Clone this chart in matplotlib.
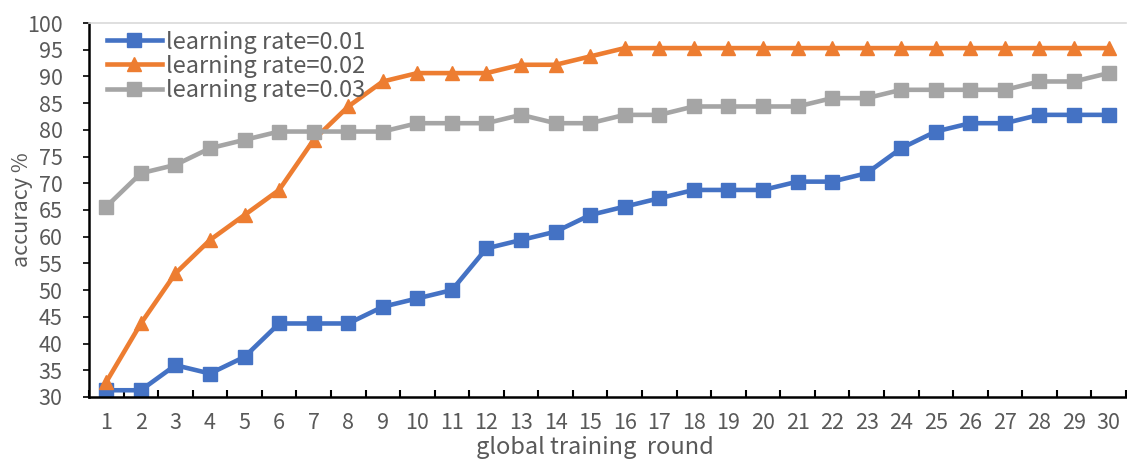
import numpy as np
import matplotlib.pyplot as plt
from matplotlib.ticker import FixedLocator

plt.rcParams['font.family'] = ['Noto Sans CJK SC', 'DejaVu Sans']

# accuracy (%) per global training round
rounds = list(range(1, 31))
acc_lr001 = [31.25, 31.25, 35.94, 34.38, 37.5, 43.75, 43.75, 43.75, 46.88, 48.44,
             50.0, 57.81, 59.38, 60.94, 64.06, 65.63, 67.19, 68.75, 68.75, 68.75,
             70.31, 70.31, 71.88, 76.56, 79.69, 81.25, 81.25, 82.81, 82.81, 82.81]
acc_lr002 = [32.81, 43.75, 53.13, 59.38, 64.06, 68.75, 78.13, 84.38, 89.06, 90.63,
             90.63, 90.63, 92.19, 92.19, 93.75, 95.31, 95.31, 95.31, 95.31, 95.31,
             95.31, 95.31, 95.31, 95.31, 95.31, 95.31, 95.31, 95.31, 95.31, 95.31]
acc_lr003 = [65.63, 71.88, 73.44, 76.56, 78.13, 79.69, 79.69, 79.69, 79.69, 81.25,
             81.25, 81.25, 82.81, 81.25, 81.25, 82.81, 82.81, 84.38, 84.38, 84.38,
             84.38, 85.94, 85.94, 87.5, 87.5, 87.5, 87.5, 89.06, 89.06, 90.63]
labels = ['learning rate=0.01', 'learning rate=0.02', 'learning rate=0.03']

txt = '#595959'

fig = plt.figure(figsize=(11.27, 4.61), dpi=100)
ax = fig.add_axes([0.079, 0.139, 0.92, 0.811])

ax.plot(rounds, acc_lr001, color='#4472C4', lw=3.3, marker='s', ms=10, label=labels[0])
ax.plot(rounds, acc_lr002, color='#ED7D31', lw=3.3, marker='^', ms=10, label=labels[1])
ax.plot(rounds, acc_lr003, color='#A5A5A5', lw=3.3, marker='s', ms=10, label=labels[2])

ax.set_xlim(0.5, 30.5)
ax.set_ylim(30, 100)
ax.set_yticks(np.arange(30, 101, 5))
ax.set_xticks(rounds)
ax.xaxis.set_minor_locator(FixedLocator(np.arange(0.5, 31, 1)))
ax.tick_params(axis='x', which='major', length=0, pad=11, labelsize=15.5, labelcolor=txt)
ax.tick_params(axis='x', which='minor', direction='in', length=5, width=1.5, color='black')
ax.tick_params(axis='y', length=4, width=1.2, pad=15, labelsize=15.5, labelcolor=txt)

ax.spines['right'].set_visible(False)
ax.spines['top'].set_color('#D9D9D9')
ax.spines['top'].set_linewidth(1.2)
ax.spines['left'].set_linewidth(1.8)
ax.spines['bottom'].set_linewidth(1.8)

ax.set_xlabel('global training  round', fontsize=17, color=txt, va='center')
ax.xaxis.set_label_coords(0.488, -0.136)
ax.set_ylabel('accuracy %', fontsize=15.5, color=txt, va='center')
ax.yaxis.set_label_coords(-0.065, 0.5)

leg = ax.legend(loc='upper left', bbox_to_anchor=(0.017, 0.98), frameon=False, fontsize=17,
                handlelength=2.35, handletextpad=0.17, labelspacing=0.05, borderpad=0,
                borderaxespad=0)
for t in leg.get_texts():
    t.set_color(txt)

plt.savefig('out.png', dpi=100)
